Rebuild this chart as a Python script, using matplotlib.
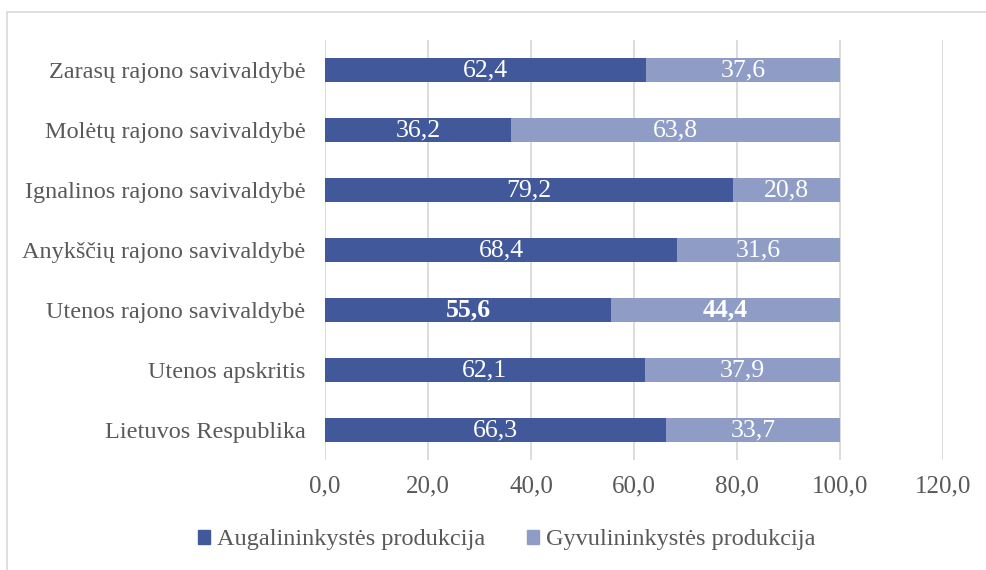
import matplotlib
matplotlib.use("Agg")
import matplotlib.pyplot as plt
from matplotlib.patches import Rectangle, Patch

categories = ["Lietuvos Respublika", "Utenos apskritis", "Utenos rajono savivaldybė",
              "Anykščių rajono savivaldybė", "Ignalinos rajono savivaldybė",
              "Molėtų rajono savivaldybė", "Zarasų rajono savivaldybė"]
augalininkyste = [66.3, 62.1, 55.6, 68.4, 79.2, 36.2, 62.4]
gyvulininkyste = [33.7, 37.9, 44.4, 31.6, 20.8, 63.8, 37.6]
series_names = ["Augalininkystės produkcija", "Gyvulininkystės produkcija"]
xticks = [0, 20, 40, 60, 80, 100, 120]
bold_category = "Utenos rajono savivaldybė"

plt.rcParams['font.family'] = ['Liberation Serif', 'DejaVu Serif']
c1, c2 = "#41599B", "#8F9DC6"
txt = "#595959"
fs = 17.5

fig = plt.figure(figsize=(9.87, 5.7), dpi=100)
fig.patches.append(Rectangle((7/987, -0.1), 1.2, 0.1 + (570-12)/570, transform=fig.transFigure,
                             fill=False, edgecolor="#d9d9d9", linewidth=1.2))
ax = fig.add_axes([325/987, 110/570, (943-325)/987, 420/570])

y = list(range(len(categories)))
b1 = ax.barh(y, augalininkyste, height=0.4, color=c1, zorder=3)
b2 = ax.barh(y, gyvulininkyste, left=augalininkyste, height=0.4, color=c2, zorder=3)

for i, cat in enumerate(categories):
    w = 'bold' if cat == bold_category else 'normal'
    a, g = augalininkyste[i], gyvulininkyste[i]
    ax.text(a / 2, i, f"{a:.1f}".replace('.', ','), ha='center', va='center',
            color='white', fontsize=18.5, fontweight=w, zorder=4)
    ax.text(a + g / 2, i, f"{g:.1f}".replace('.', ','), ha='center', va='center',
            color='white', fontsize=18.5, fontweight=w, zorder=4)

ax.set_xlim(0, 120)
ax.set_ylim(-0.5, len(categories) - 0.5)
ax.set_xticks(xticks)
ax.set_xticklabels([f"{t:.1f}".replace('.', ',') for t in xticks], fontsize=18, color=txt)
ax.set_yticks(y)
ax.set_yticklabels(categories, fontsize=fs, color=txt)
ax.tick_params(length=0)
ax.tick_params(axis='y', pad=14)
ax.tick_params(axis='x', pad=11)
for s in ax.spines.values():
    s.set_visible(False)
ax.xaxis.grid(True, color="#d9d9d9", linewidth=1.3, zorder=0)
ax.set_axisbelow(True)

handles = [Patch(color=c1), Patch(color=c2)]
fig.legend(handles, series_names, loc='center', bbox_to_anchor=(507/987, 1 - 540/570),
           ncol=2, frameon=False, fontsize=fs, labelcolor=txt,
           handlelength=0.5, handleheight=0.5, handletextpad=0.3, columnspacing=1.7)

fig.savefig("out.png", dpi=100, facecolor="white")
